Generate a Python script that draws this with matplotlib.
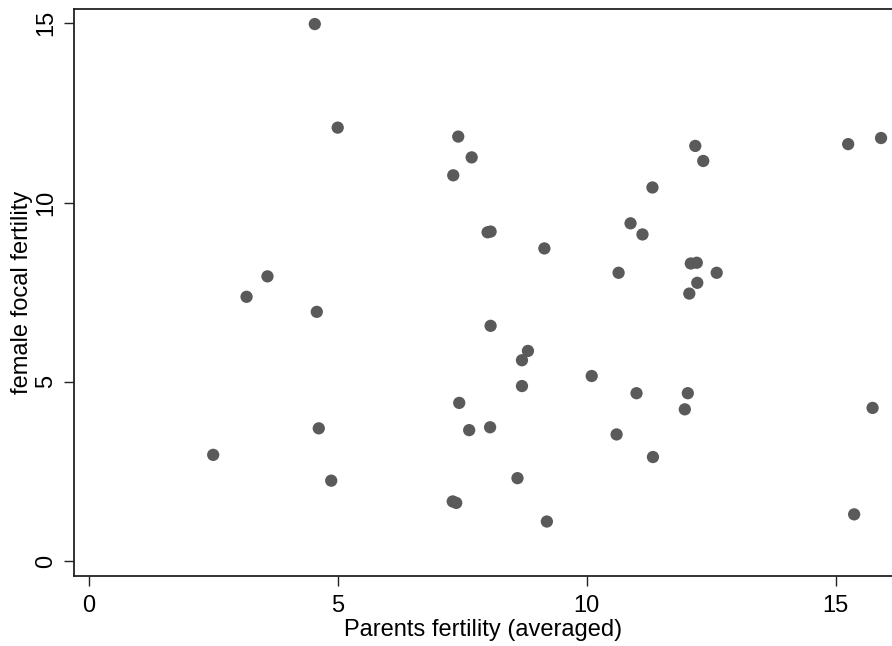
import matplotlib
matplotlib.use("Agg")
import matplotlib.pyplot as plt

plt.rcParams['font.family'] = ['Liberation Sans', 'DejaVu Sans']

# Parents' averaged fertility vs. female focal fertility
parents_fertility = [
    4.54, 5.00, 7.42, 7.69, 7.32, 12.18, 12.34, 11.32, 15.25, 15.91,
    10.88, 11.12, 8.01, 8.07, 9.15, 12.09, 12.21, 10.64, 12.61, 12.22,
    12.06, 3.59, 3.17, 4.58, 8.07, 8.82, 8.70, 10.10, 8.70, 11.00,
    12.03, 11.97, 15.74, 7.44, 4.62, 7.64, 8.06, 10.60, 2.50, 4.87,
    8.61, 11.33, 7.31, 7.38, 9.20, 15.37,
]
female_focal_fertility = [
    14.98, 12.09, 11.84, 11.26, 10.76, 11.58, 11.16, 10.42, 11.63, 11.80,
    9.42, 9.11, 9.17, 9.19, 8.72, 8.30, 8.32, 8.04, 8.04, 7.76,
    7.46, 7.94, 7.37, 6.95, 6.56, 5.86, 5.60, 5.16, 4.88, 4.68,
    4.68, 4.23, 4.27, 4.41, 3.70, 3.65, 3.73, 3.53, 2.96, 2.24,
    2.31, 2.90, 1.66, 1.62, 1.10, 1.30,
]
x_ticks = [0, 5, 10, 15]
y_ticks = [0, 5, 10, 15]

fig = plt.figure(figsize=(8.92, 6.46), dpi=100)
ax = fig.add_axes([73.5 / 892, 70 / 646, 1 - 73.5 / 892, 567 / 646])

ax.scatter(parents_fertility, female_focal_fertility, s=78, color='#5a5a5a',
           edgecolors='none', zorder=3)

ax.set_xlim(-0.305, 16.13)
ax.set_ylim(-0.42, 15.40)
ax.set_xticks(x_ticks)
ax.set_yticks(y_ticks)
ax.set_yticklabels([str(v) for v in y_ticks], rotation=90, va='center')

ax.tick_params(axis='both', length=7, width=1.0, color='#222222',
               labelsize=17, labelcolor='black')
ax.tick_params(axis='x', pad=7)
ax.tick_params(axis='y', pad=5)

for side in ['left', 'bottom', 'top']:
    ax.spines[side].set_color('#222222')
    ax.spines[side].set_linewidth(1.3)
ax.spines['right'].set_visible(False)

ax.set_xlabel('Parents fertility (averaged)', fontsize=17, labelpad=1)
ax.set_ylabel('female focal fertility', fontsize=17, labelpad=1)

fig.savefig('out.png', dpi=100)
